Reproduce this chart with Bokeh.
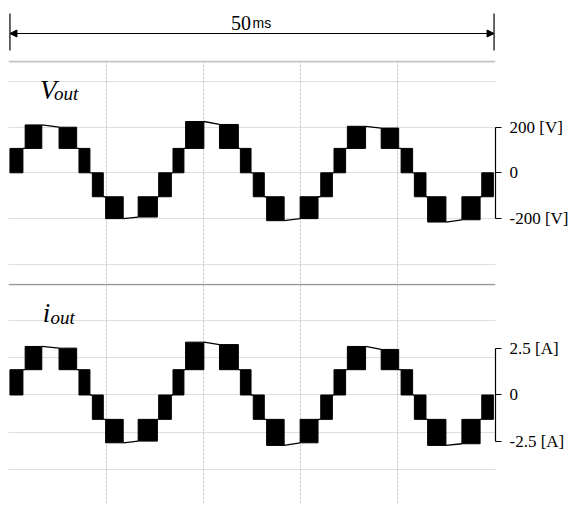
from bokeh.plotting import figure
from bokeh.layouts import column
from bokeh.models import (Range1d, Arrow, NormalHead, Label, Span, Grid,
                          FixedTicker, LinearAxis)
from bokeh.embed import file_html
from bokeh.resources import INLINE

# ---------------- data ----------------
span_ms = 50
grid_t = [10, 20, 30, 40]

# PWM blocks (time in ms)
t_start = [0.0, 1.57, 5.07, 7.13, 8.51, 9.88, 13.24, 15.36,
           16.84, 18.14, 21.64, 23.80, 25.13, 26.51, 29.97, 32.10,
           33.47, 34.85, 38.34, 40.40, 41.77, 43.14, 46.68, 48.73]
t_end = [1.34, 3.29, 6.89, 8.26, 9.64, 11.70, 15.23, 16.67,
         17.97, 20.03, 23.59, 24.90, 26.27, 28.32, 31.82, 33.30,
         34.67, 36.73, 40.15, 41.59, 42.97, 45.03, 48.56, 49.93]

# output voltage levels of each block [V]
v_lo = [0, 107, 107, 0, -105, -201, -194, -105,
        0, 107, 107, 0, -105, -210, -201, -105,
        0, 107, 107, 0, -105, -216, -206, -105]
v_hi = [107, 210, 200, 107, 0, -105, -105, 0,
        107, 225, 212, 107, 0, -105, -105, 0,
        107, 204, 196, 107, 0, -105, -105, 0]

# output current levels of each block [A]
i_lo = [0, 1.35, 1.35, 0, -1.3, -2.55, -2.46, -1.3,
        0, 1.35, 1.35, 0, -1.3, -2.69, -2.55, -1.3,
        0, 1.35, 1.35, 0, -1.3, -2.69, -2.60, -1.3]
i_hi = [1.35, 2.59, 2.50, 1.35, 0, -1.3, -1.3, 0,
        1.35, 2.82, 2.69, 1.35, 0, -1.3, -1.3, 0,
        1.35, 2.59, 2.43, 1.35, 0, -1.3, -1.3, 0]

v_ticks = [-200, 0, 200]
v_tick_labels = ["-200 [V]", "0", "200 [V]"]
v_grid = [-400, -200, 0, 200, 400]
i_ticks = [-2.5, 0, 2.5]
i_tick_labels = ["-2.5 [A]", "0", "2.5 [A]"]
i_grid = [-4, -2, 0, 2, 4]

# ---------------- layout helpers ----------------
X_RANGE = (-0.15, 50.15)
FW = 487
SERIF = "Liberation Serif"


def base_fig(h, yr, top=0):
    p = figure(frame_width=FW, frame_height=h,
               x_range=Range1d(*X_RANGE), y_range=Range1d(*yr),
               x_axis_location=None, y_axis_location=None,
               toolbar_location=None, output_backend="svg",
               min_border_left=8, min_border_right=72,
               min_border_top=top, min_border_bottom=0,
               outline_line_color=None,
               background_fill_color="white", border_fill_color="white")
    p.grid.visible = False
    return p


def connectors(lo, hi):
    x0, x1, y0, y1 = [], [], [], []
    for k in range(len(t_start) - 1):
        if hi[k] == lo[k + 1]:
            a = b = hi[k]
        elif lo[k] == hi[k + 1]:
            a = b = lo[k]
        elif lo[k] == lo[k + 1]:
            a, b = hi[k], hi[k + 1]
        else:
            a, b = lo[k], lo[k + 1]
        x0.append(t_end[k]); x1.append(t_start[k + 1])
        y0.append(a); y1.append(b)
    return x0, x1, y0, y1


def scope_panel(h, yr, lo, hi, ticks, tick_labels, grid_vals, top_loc, top_color, top_w):
    p = base_fig(h, yr)
    gx = Grid(dimension=0, ticker=FixedTicker(ticks=grid_t),
              grid_line_color="#cfcfcf", grid_line_dash="3 1", grid_line_width=1)
    gy = Grid(dimension=1, ticker=FixedTicker(ticks=grid_vals),
              grid_line_color="#bdbdbd", grid_line_dash="1 1", grid_line_width=1)
    p.add_layout(gx, "center")
    p.add_layout(gy, "center")
    p.add_layout(Span(location=top_loc, dimension="width",
                      line_color=top_color, line_width=top_w))
    x0, x1, y0, y1 = connectors(lo, hi)
    p.segment(x0=x0, x1=x1, y0=y0, y1=y1, line_color="black", line_width=1.3)
    p.quad(left=t_start, right=t_end, bottom=lo, top=hi,
           fill_color="black", line_color="black", line_width=1)
    ax = LinearAxis(ticker=FixedTicker(ticks=ticks),
                    major_label_overrides=dict(zip(ticks, tick_labels)),
                    bounds=(min(ticks), max(ticks)))
    ax.axis_line_color = "black"
    ax.axis_line_width = 1.2
    ax.major_tick_line_color = "black"
    ax.major_tick_line_width = 1.2
    ax.major_tick_out = 6
    ax.major_tick_in = 0
    ax.minor_tick_line_color = None
    ax.major_label_standoff = 8
    ax.major_label_text_font = SERIF
    ax.major_label_text_font_size = "17px"
    ax.major_label_text_color = "black"
    p.add_layout(ax, "right")
    return p


# ---------------- header with 50 ms arrow ----------------
hdr = base_fig(52, (0, 52), top=8)
hdr.add_layout(Arrow(start=NormalHead(size=7, fill_color="black", line_color="black"),
                     end=NormalHead(size=7, fill_color="black", line_color="black"),
                     x_start=0, y_start=27, x_end=span_ms, y_end=27,
                     line_color="black", line_width=1))
hdr.segment(x0=[0, span_ms], x1=[0, span_ms], y0=[10, 10], y1=[47, 47],
            line_color="black", line_width=1.2)
hdr.add_layout(Label(x=span_ms / 2 - 0.1, y=38, text=str(span_ms), text_align="right",
                     text_baseline="alphabetic", text_font=SERIF,
                     text_font_size="20px", text_color="black"))
hdr.add_layout(Label(x=span_ms / 2 + 0.05, y=38, text="ms", text_align="left",
                     text_baseline="alphabetic", text_font="Liberation Sans",
                     text_font_size="14px", text_color="black"))

# ---------------- voltage panel ----------------
pv = scope_panel(223, (-485.5, 492.5), v_lo, v_hi, v_ticks, v_tick_labels,
                 v_grid, 488, "#c4c4c4", 2)
pv.add_layout(Label(x=3.1, y=361, text="V", text_font=SERIF, text_font_style="italic",
                    text_font_size="27px", text_color="black", text_baseline="alphabetic"))
pv.add_layout(Label(x=4.55, y=347, text="out", text_font=SERIF, text_font_style="italic",
                    text_font_size="19px", text_color="black", text_baseline="alphabetic"))

# ---------------- current panel ----------------
pi = scope_panel(220, (-5.787, 5.947), i_lo, i_hi, i_ticks, i_tick_labels,
                 i_grid, 5.89, "#9a9a9a", 1.5)
pi.add_layout(Label(x=3.4, y=4.35, text="i", text_font=SERIF, text_font_style="italic",
                    text_font_size="27px", text_color="black", text_baseline="alphabetic"))
pi.add_layout(Label(x=4.19, y=4.13, text="out", text_font=SERIF, text_font_style="italic",
                    text_font_size="19px", text_color="black", text_baseline="alphabetic"))

layout = column(hdr, pv, pi, spacing=0)
open("out.html", "w").write(file_html(layout, INLINE))
